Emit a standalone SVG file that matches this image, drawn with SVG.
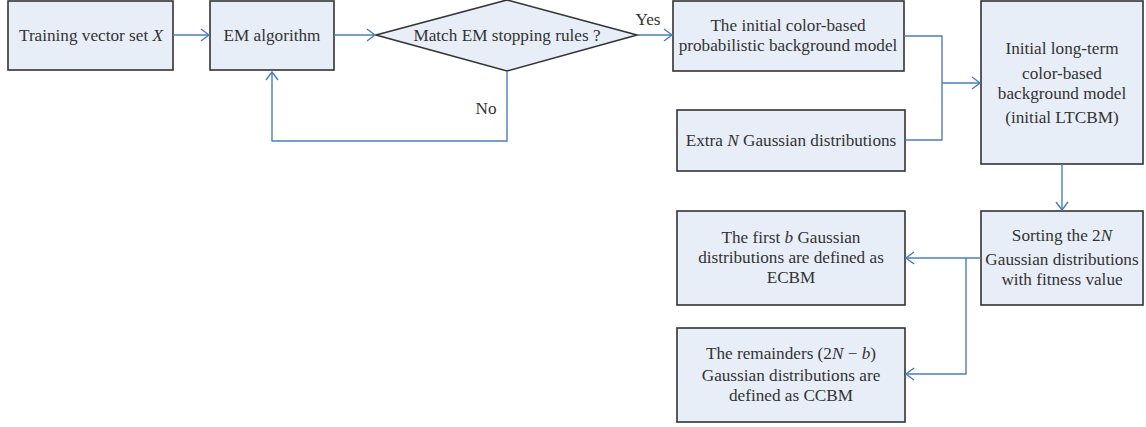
<svg xmlns="http://www.w3.org/2000/svg" width="1146" height="427" viewBox="0 0 1146 427">
<style>
.n{fill:#e8eef7;stroke:#333;stroke-width:1.6}
.t{font-family:"Liberation Serif",serif;font-size:17.2px;fill:#333;text-anchor:middle}
.c{fill:none;stroke:#4a7ebb;stroke-width:1.4}
</style>
<defs>
<marker id="a" markerUnits="userSpaceOnUse" markerWidth="12" markerHeight="14" refX="9" refY="7" orient="auto">
<path d="M1,1 L9,7 L1,13" fill="none" stroke="#4a7ebb" stroke-width="1.4"/>
</marker>
</defs>
<rect width="1146" height="427" fill="#fff"/>
<g id="n1"><rect class="n" x="8" y="1" width="165" height="69"/><text class="t" x="91" y="41">Training vector set <tspan font-style="italic">X</tspan></text></g>
<g id="n2"><rect class="n" x="210" y="1" width="124" height="69"/><text class="t" x="272" y="41">EM algorithm</text></g>
<g id="n3"><polygon class="n" points="376,35 507,0 637,35 507,71"/><text class="t" x="507" y="41">Match EM stopping rules ?</text></g>
<g id="n4"><rect class="n" x="673" y="1" width="231" height="70"/><text class="t" x="788" y="31">The initial color-based</text><text class="t" x="788" y="51">probabilistic background model</text></g>
<g id="n5"><rect class="n" x="677" y="110" width="228" height="61"/><text class="t" x="791" y="146">Extra <tspan font-style="italic">N</tspan> Gaussian distributions</text></g>
<g id="n6"><rect class="n" x="981" y="1" width="162" height="163"/><text class="t" x="1062" y="54">Initial long-term</text><text class="t" x="1062" y="79">color-based</text><text class="t" x="1062" y="99">background model</text><text class="t" x="1062" y="123">(initial LTCBM)</text></g>
<g id="n7"><rect class="n" x="981" y="211" width="162" height="94"/><text class="t" x="1062" y="241">Sorting the 2<tspan font-style="italic">N</tspan></text><text class="t" x="1062" y="265">Gaussian distributions</text><text class="t" x="1062" y="285">with fitness value</text></g>
<g id="n8"><rect class="n" x="677" y="211" width="228" height="94"/><text class="t" x="791" y="243">The first <tspan font-style="italic">b</tspan> Gaussian</text><text class="t" x="791" y="263">distributions are defined as</text><text class="t" x="791" y="283">ECBM</text></g>
<g id="n9"><rect class="n" x="677" y="328" width="228" height="94"/><text class="t" x="791" y="359">The remainders (2<tspan font-style="italic">N</tspan> − <tspan font-style="italic">b</tspan>)</text><text class="t" x="791" y="381">Gaussian distributions are</text><text class="t" x="791" y="401">defined as CCBM</text></g>
<g id="connectors">
<path class="c" d="M173,35 H209" marker-end="url(#a)"/>
<path class="c" d="M334,35 H375" marker-end="url(#a)"/>
<path class="c" d="M637,35 H672" marker-end="url(#a)"/>
<path class="c" d="M507,71 V141 H272 V72" marker-end="url(#a)"/>
<path class="c" d="M904,36 H942 V140 H905"/>
<path class="c" d="M942,83 H980" marker-end="url(#a)"/>
<path class="c" d="M1062,164 V210" marker-end="url(#a)"/>
<path class="c" d="M981,258 H906" marker-end="url(#a)"/>
<path class="c" d="M966,258 V374 H906" marker-end="url(#a)"/>
<text class="t" x="648" y="25">Yes</text>
<text class="t" x="486" y="114">No</text>
</g>
</svg>
